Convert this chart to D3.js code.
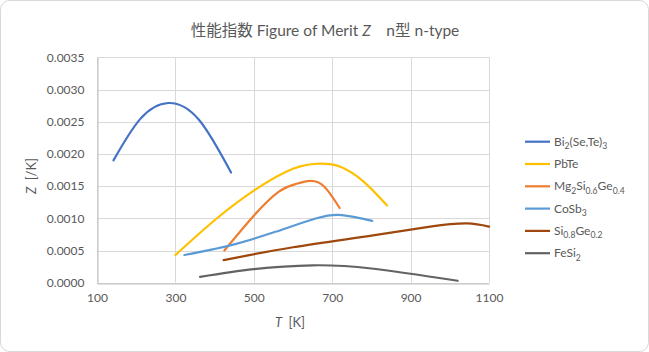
<!DOCTYPE html>
<html lang="ja">
<head>
<meta charset="utf-8">
<script src="https://d3js.org/d3.v7.min.js"></script>
<style>
  body { margin: 0; background: #fff; }
  #chart { font-family: Lato, "Noto Sans CJK JP", sans-serif; }
</style>
</head>
<body>
<div id="chart"></div>
<script>
// data: [T (K), Z (1/K)]
const bi2SeTe3 = [[142,0.00190],[210,0.00254],[282,0.00279],[360,0.00253],[442,0.00171]];
const pbTe = [[300,0.00043],[400,0.00097],[500,0.00143],[600,0.00177],[670,0.00185],[721,0.00180],[780,0.00157],[840,0.00120]];
const mg2SiGe = [[425,0.00050],[500,0.00104],[563,0.00141],[606,0.00153],[644,0.00158],[680,0.00149],[719,0.00116]];
const coSb3 = [[323,0.00043],[440,0.00058],[555,0.00079],[660,0.00100],[725,0.00105],[802,0.00096]];
const siGe = [[423,0.00035],[600,0.00055],[800,0.00073],[950,0.00087],[1044,0.00092],[1100,0.00087]];
const feSi2 = [[363,0.00009],[500,0.00021],[650,0.00027],[800,0.00022],[1020,0.00003]];

const seriesNames = ["Bi_{2}(Se,Te)_{3}", "PbTe", "Mg_{2}Si_{0.6}Ge_{0.4}", "CoSb_{3}", "Si_{0.8}Ge_{0.2}", "FeSi_{2}"];
const seriesData = [bi2SeTe3, pbTe, mg2SiGe, coSb3, siGe, feSi2];
const seriesColors = ["#4472C4", "#FFC000", "#ED7D31", "#5B9BD5", "#9E480E", "#636363"];

const xTicks = [100, 300, 500, 700, 900, 1100];
const yTicks = [0, 0.0005, 0.001, 0.0015, 0.002, 0.0025, 0.003, 0.0035];

const width = 649, height = 352;
const plot = {left: 97, right: 489, top: 57.3, bottom: 282.7};
const textColor = "#595959";

const svg = d3.select("#chart").append("svg")
  .attr("width", width)
  .attr("height", height);

svg.append("rect")
  .attr("x", 0.5).attr("y", 0.5)
  .attr("width", width - 1).attr("height", height - 1)
  .attr("rx", 9)
  .attr("fill", "#fff")
  .attr("stroke", "#D9D9D9");

const x = d3.scaleLinear().domain([100, 1100]).range([plot.left, plot.right]);
const y = d3.scaleLinear().domain([0, 0.0035]).range([plot.bottom, plot.top]);

// gridlines
svg.append("g")
  .selectAll("line.h")
  .data(yTicks)
  .join("line")
    .attr("x1", plot.left).attr("x2", plot.right)
    .attr("y1", d => Math.round(y(d)) + 0.5).attr("y2", d => Math.round(y(d)) + 0.5)
    .attr("stroke", "#D9D9D9");
svg.append("g")
  .selectAll("line.v")
  .data(xTicks)
  .join("line")
    .attr("x1", d => Math.round(x(d)) + 0.5).attr("x2", d => Math.round(x(d)) + 0.5)
    .attr("y1", plot.top).attr("y2", plot.bottom)
    .attr("stroke", "#D9D9D9");

// axes
const xAxis = svg.append("g")
  .attr("transform", `translate(0,${Math.round(plot.bottom) + 0.5})`)
  .call(d3.axisBottom(x).tickValues(xTicks).tickSize(0).tickPadding(10).tickFormat(d3.format("d")));
const yAxis = svg.append("g")
  .attr("transform", `translate(${Math.round(plot.left) + 0.5},0)`)
  .call(d3.axisLeft(y).tickValues(yTicks).tickSize(0).tickPadding(13).tickFormat(d3.format(".4f")));
[xAxis, yAxis].forEach(a => {
  a.select(".domain").attr("stroke", "#BFBFBF");
  a.selectAll("text")
    .attr("fill", textColor)
    .style("font-family", "Lato, sans-serif")
    .style("font-size", "12px");
});

// lines
const line = d3.line()
  .x(d => x(d[0]))
  .y(d => y(d[1]))
  .curve(d3.curveNatural);

svg.append("g")
  .selectAll("path")
  .data(seriesData)
  .join("path")
    .attr("d", line)
    .attr("fill", "none")
    .attr("stroke", (d, i) => seriesColors[i])
    .attr("stroke-width", 2.2)
    .attr("stroke-linecap", "round");

// text with _{sub} markup
function richText(sel, str, size) {
  const parts = str.split(/(_\{[^}]*\})/).filter(s => s.length);
  let sub = false;
  parts.forEach(p => {
    const isSub = p.startsWith("_{");
    const t = sel.append("tspan").text(isSub ? p.slice(2, -1) : p);
    if (isSub) {
      t.style("font-size", (size * 0.72) + "px");
      if (!sub) t.attr("dy", 3.5);
    } else if (sub) {
      t.attr("dy", -3.5);
    }
    sub = isSub;
  });
}

// legend
const legend = svg.append("g");
seriesNames.forEach((name, i) => {
  const ly = 141.7 + i * 22.3;
  legend.append("line")
    .attr("x1", 525).attr("x2", 550)
    .attr("y1", ly).attr("y2", ly)
    .attr("stroke", seriesColors[i])
    .attr("stroke-width", 2.2);
  const t = legend.append("text")
    .attr("x", 554).attr("y", ly + 4)
    .attr("fill", textColor)
    .style("font-size", "12px");
  richText(t, name, 12);
});

// title
const title = svg.append("text")
  .attr("x", 325).attr("y", 36)
  .attr("text-anchor", "middle")
  .attr("fill", textColor)
  .style("font-size", "15.5px");
title.append("tspan").text("性能指数 Figure of Merit ");
title.append("tspan").style("font-style", "italic").text("Z");
title.append("tspan").text("\u3000n型 n-type");

// axis titles
const xt = svg.append("text")
  .attr("x", 290).attr("y", 327)
  .attr("text-anchor", "middle")
  .attr("fill", textColor)
  .style("font-size", "13px");
xt.append("tspan").style("font-style", "italic").text("T");
xt.append("tspan").text("\u2002[K]");

const yt = svg.append("text")
  .attr("transform", "translate(36,176) rotate(-90)")
  .attr("text-anchor", "middle")
  .attr("fill", textColor)
  .style("font-size", "13px");
yt.append("tspan").style("font-style", "italic").text("Z");
yt.append("tspan").text("\u2002[/K]");
</script>
</body>
</html>
